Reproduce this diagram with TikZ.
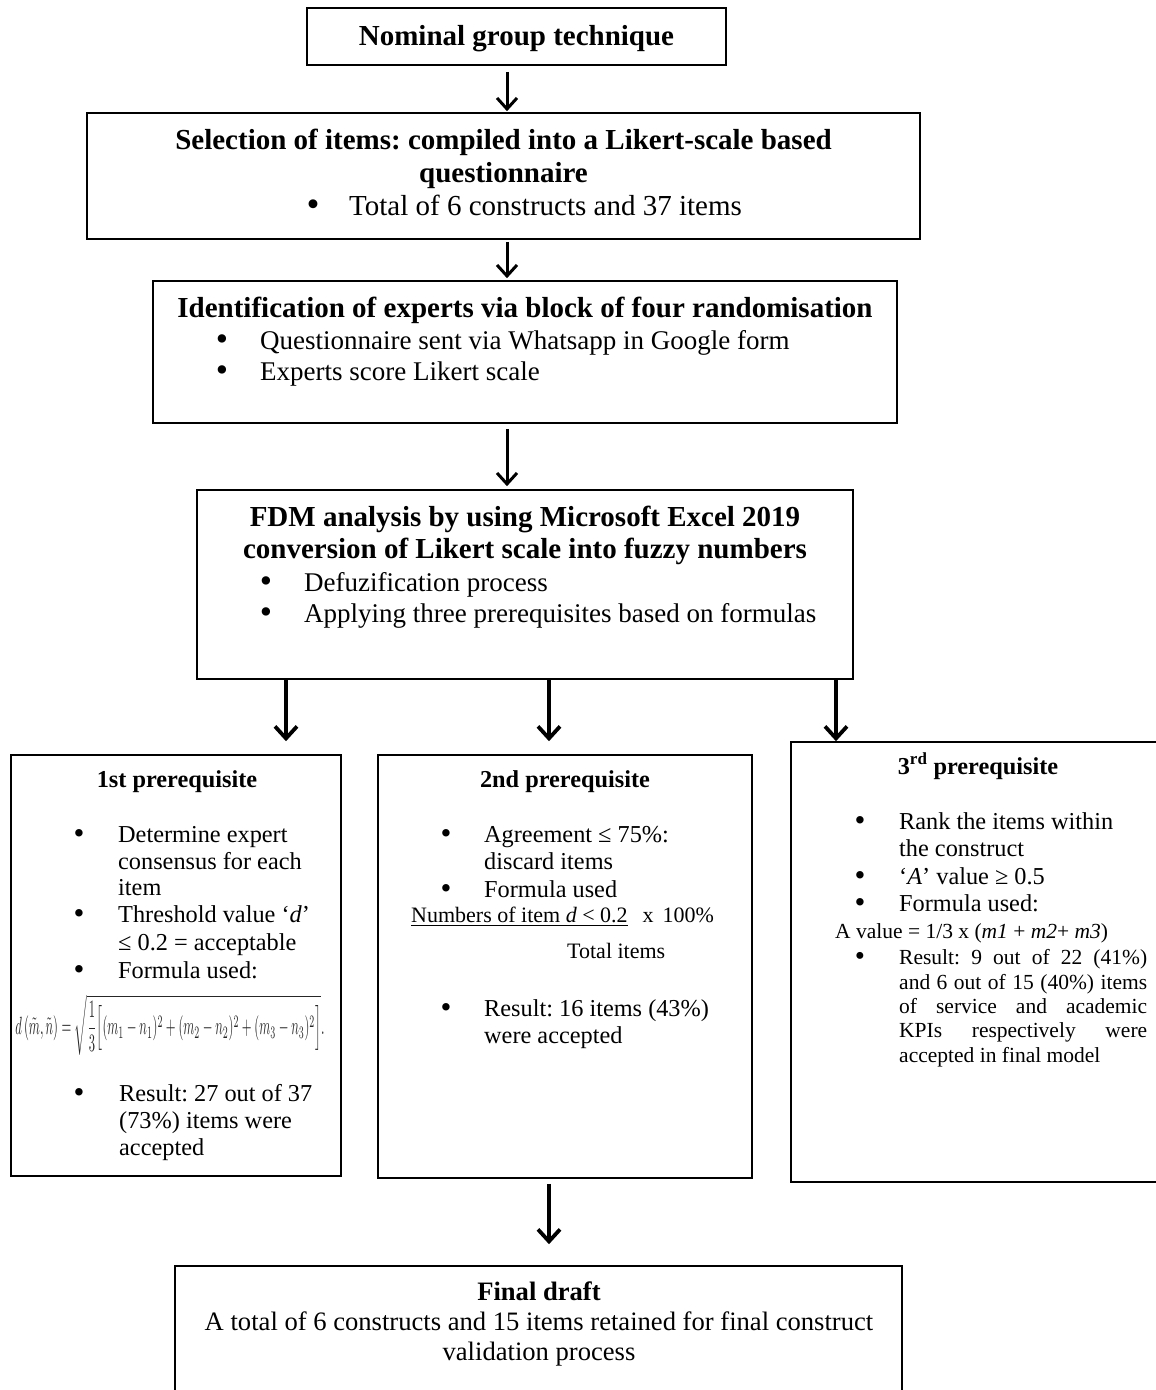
\documentclass[tikz,border=0pt]{standalone}
\usepackage{fontspec}
\setmainfont{Liberation Serif}
\usepackage{graphicx}
\usepackage{amsmath}
\usetikzlibrary{arrows.meta}
\frenchspacing
\begin{document}
\begin{tikzpicture}[x=1pt,y=-1pt,
  box/.style={draw, line width=1.6pt, inner sep=0pt},
  fa/.style={font=\fontsize{29}{33}\selectfont, inner sep=0pt},
  fab/.style={font=\fontsize{29}{33}\selectfont\bfseries, inner sep=0pt},
  fe/.style={font=\fontsize{27}{31}\selectfont, inner sep=0pt},
  fb/.style={font=\fontsize{24.3}{27}\selectfont, inner sep=0pt},
  fbb/.style={font=\fontsize{24.3}{27}\selectfont\bfseries, inner sep=0pt},
  fc/.style={font=\fontsize{21.5}{24}\selectfont, inner sep=0pt},
  fcc/.style={font=\fontsize{22}{24}\selectfont, inner sep=0pt},
  fd/.style={font=\fontsize{26.6}{30}\selectfont, inner sep=0pt},
  fdb/.style={font=\fontsize{26.6}{30}\selectfont\bfseries, inner sep=0pt},
  bul/.style={font=\fontsize{#1}{#1}\selectfont, inner sep=0pt, anchor=base},
  arr/.style={line width=3pt, -{Straight Barb[length=11pt,width=20pt]}},
  arrb/.style={line width=3.8pt, -{Straight Barb[length=12pt,width=22pt]}}
]
\clip (0,0) rectangle (1156,1390);
\fill[white] (0,0) rectangle (1156,1390);

% boxes
\node[box, minimum width=419pt, minimum height=57pt] (b1) at (516.5,36.5) {};
\node[box, minimum width=833pt, minimum height=126pt] (b2) at (503.5,176) {};
\node[box, minimum width=744pt, minimum height=142pt] (b3) at (525,352) {};
\node[box, minimum width=656pt, minimum height=189pt] (b4) at (525,584.5) {};
\node[box, minimum width=330pt, minimum height=421pt] (b5) at (176,965.5) {};
\node[box, minimum width=374pt, minimum height=423pt] (b6) at (565,966.5) {};
\node[box, minimum width=376pt, minimum height=440pt] (b7) at (979,962) {};
\node[box, minimum width=727pt, minimum height=140pt] (b8) at (538.5,1336) {};

% box 1
\node[fab, anchor=base] (t1) at (516.5,45) {Nominal group technique};

% box 2
\node[fab, anchor=base] (t2a) at (503.5,149) {Selection of items: compiled into a Likert-scale based};
\node[fab, anchor=base] (t2b) at (503.5,182) {questionnaire};
\node[bul=37] (u2a) at (313,216) {•};
\node[fa, anchor=base west] (t2c) at (349,215) {Total of 6 constructs and 37 items};

% box 3
\node[fab, anchor=base] (t3a) at (525,317) {Identification of experts via block of four randomisation};
\node[bul=35] (u3a) at (222,350) {•};
\node[fe, anchor=base west] (t3b) at (260,349) {Questionnaire sent via Whatsapp in Google form};
\node[bul=35] (u3b) at (222,381) {•};
\node[fe, anchor=base west] (t3c) at (260,380) {Experts score Likert scale};

% box 4
\node[fab, anchor=base] (t4a) at (525,526) {FDM analysis by using Microsoft Excel 2019};
\node[fab, anchor=base] (t4b) at (525,558) {conversion of Likert scale into fuzzy numbers};
\node[bul=35] (u4a) at (266,592) {•};
\node[fe, anchor=base west] (t4c) at (304,591) {Defuzification process};
\node[bul=35] (u4b) at (266,623) {•};
\node[fe, anchor=base west] (t4d) at (304,622) {Applying three prerequisites based on formulas};

% box 5
\node[fbb, anchor=base] (t5) at (177,787) {1st prerequisite};
\node[bul=31] (u5a) at (79,843) {•};
\node[fb, anchor=base west] (t5a) at (118,842) {Determine expert};
\node[fb, anchor=base west] (t5b) at (118,869) {consensus for each};
\node[fb, anchor=base west] (t5c) at (118,895) {item};
\node[bul=31] (u5b) at (79,923) {•};
\node[fb, anchor=base west] (t5d) at (118,922) {Threshold value ‘\textit{d}’};
\node[fb, anchor=base west] (t5e) at (118,950) {≤ 0.2 = acceptable};
\node[bul=31] (u5c) at (79,979) {•};
\node[fb, anchor=base west] (t5f) at (118,978) {Formula used:};
\node[inner sep=0pt, text=black!85] (f5) at (170,1025) {\resizebox{309pt}{40pt}{$d\left(\tilde m,\tilde n\right)=\sqrt{\dfrac{1}{3}\Bigl[(m_1-n_1)^2+(m_2-n_2)^2+(m_3-n_3)^2\Bigr]}.$}};
\node[bul=31] (u5d) at (79,1102) {•};
\node[fb, anchor=base west] (t5g) at (119,1101) {Result: 27 out of 37};
\node[fb, anchor=base west] (t5h) at (119,1128) {(73\%) items were};
\node[fb, anchor=base west] (t5i) at (119,1155) {accepted};

% box 6
\node[fbb, anchor=base] (t6) at (565,787) {2nd prerequisite};
\node[bul=31] (u6a) at (446,843) {•};
\node[fb, anchor=base west] (t6a) at (484,842) {Agreement ≤ 75\%:};
\node[fb, anchor=base west] (t6b) at (484,869) {discard items};
\node[bul=31] (u6b) at (446,898) {•};
\node[fb, anchor=base west] (t6c) at (484,897) {Formula used};
\node[fcc, anchor=base west] (t6d) at (411,922) {\underline{Numbers of item \textit{d} < 0.2}\hspace{15pt}x\hspace{9pt}100\%};
\node[fcc, anchor=base west] (t6e) at (567,958) {Total items};
\node[bul=31] (u6c) at (446,1017) {•};
\node[fb, anchor=base west] (t6f) at (484,1016) {Result: 16 items (43\%)};
\node[fb, anchor=base west] (t6g) at (484,1043) {were accepted};

% box 7
\node[fbb, anchor=base] (t7) at (978,774) {3\textsuperscript{rd} prerequisite};
\node[bul=31] (u7a) at (860,830) {•};
\node[fb, anchor=base west] (t7a) at (899,829) {Rank the items within};
\node[fb, anchor=base west] (t7b) at (899,856) {the construct};
\node[bul=31] (u7b) at (860,885) {•};
\node[fb, anchor=base west] (t7c) at (899,884) {‘\textit{A}’ value ≥ 0.5};
\node[bul=31] (u7c) at (860,912) {•};
\node[fb, anchor=base west] (t7d) at (899,911) {Formula used:};
\node[fc, anchor=base west] (t7e) at (835,938) {A value = 1/3 x (\textit{m1} + \textit{m2}+ \textit{m3})};
\node[bul=29] (u7d) at (860,965) {•};
\node[fc, anchor=base west] (t7f) at (899,964) {\makebox[248pt][s]{Result: 9 out of 22 (41\%)}};
\node[fc, anchor=base west] (t7g) at (899,989) {\makebox[248pt][s]{and 6 out of 15 (40\%) items}};
\node[fc, anchor=base west] (t7h) at (899,1013) {\makebox[248pt][s]{of service and academic}};
\node[fc, anchor=base west] (t7i) at (899,1037) {\makebox[248pt][s]{KPIs respectively were}};
\node[fc, anchor=base west] (t7j) at (899,1062) {accepted in final model};

% box 8
\node[fdb, anchor=base] (t8a) at (539,1300) {Final draft};
\node[fd, anchor=base] (t8b) at (539,1330) {A total of 6 constructs and 15 items retained for final construct};
\node[fd, anchor=base] (t8c) at (539,1360) {validation process};

% arrows
\coordinate (xa) at (507,0);
\coordinate (xl) at (286,0);
\coordinate (xm) at (549,0);
\coordinate (xr) at (836,0);
\draw[arr, shorten <=6pt, shorten >=1pt] (b1.south -| xa) -- (b2.north -| xa);
\draw[arr, shorten <=2pt, shorten >=2pt] (b2.south -| xa) -- (b3.north -| xa);
\draw[arr, shorten <=5pt, shorten >=3pt] (b3.south -| xa) -- (b4.north -| xa);
\draw[arrb, shorten >=13pt] (b4.south -| xl) -- (b5.north -| xl);
\draw[arrb, shorten >=13pt] (b4.south -| xm) -- (b6.north -| xm);
\draw[arrb] (b4.south -| xr) -- (b7.north -| xr);
\draw[arrb, shorten <=5pt, shorten >=21pt] (b6.south -| xm) -- (b8.north -| xm);
\end{tikzpicture}
\end{document}
